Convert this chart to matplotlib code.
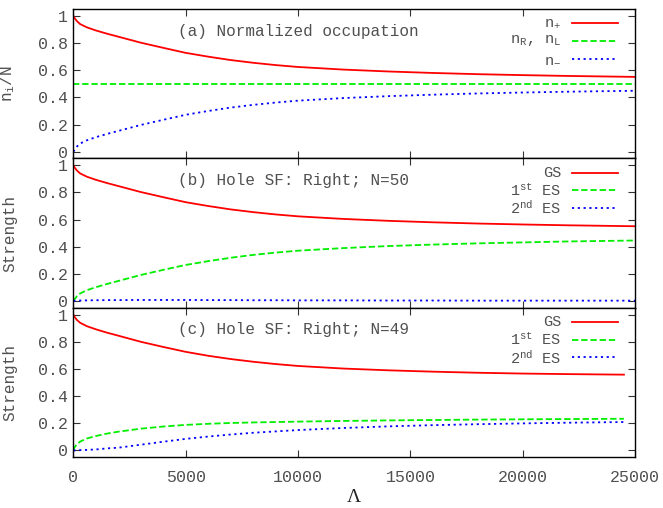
"""
Occupation and hole spectroscopic strengths vs Lambda (three stacked panels).
"""

import numpy as np
import matplotlib
matplotlib.use("Agg")
import matplotlib.pyplot as plt
import matplotlib.ticker as mticker

# ── Data ──────────────────────────────────────────────────
LAM_AB = [0, 50, 150, 300, 600, 1000, 1500, 2000, 3000, 4000, 5000, 6000, 7000,
          8000, 9000, 10000, 12000, 14000, 16000, 18000, 20000, 22000, 25000]
N_PLUS = [1.0, 0.985, 0.963, 0.94, 0.916, 0.893, 0.869, 0.847, 0.803, 0.765, 0.728,
          0.70, 0.675, 0.655, 0.638, 0.624, 0.605, 0.591, 0.58, 0.571, 0.564, 0.558, 0.551]
N_RL = [0.5] * len(LAM_AB)
N_MINUS = [0.0, 0.015, 0.037, 0.06, 0.084, 0.107, 0.131, 0.153, 0.197, 0.235, 0.272,
           0.30, 0.325, 0.345, 0.362, 0.376, 0.395, 0.409, 0.42, 0.429, 0.436, 0.442, 0.449]

GS_B = [1.0, 0.985, 0.963, 0.94, 0.916, 0.893, 0.869, 0.847, 0.803, 0.765, 0.728,
        0.70, 0.675, 0.655, 0.638, 0.624, 0.605, 0.591, 0.58, 0.571, 0.564, 0.558, 0.551]
ES1_B = [0.0, 0.013, 0.034, 0.056, 0.08, 0.102, 0.126, 0.148, 0.192, 0.23, 0.266,
         0.294, 0.319, 0.34, 0.357, 0.371, 0.39, 0.405, 0.416, 0.425, 0.432, 0.439, 0.446]
ES2_B = [0.0, 0.002, 0.003, 0.004, 0.005, 0.006, 0.007, 0.007, 0.008, 0.008, 0.008,
         0.007, 0.007, 0.006, 0.006, 0.005, 0.005, 0.004, 0.004, 0.003, 0.003, 0.003, 0.003]

LAM_C = [0, 50, 150, 300, 600, 1000, 1500, 2000, 3000, 4000, 5000, 6000, 7000,
         8000, 9000, 10000, 12000, 14000, 16000, 18000, 20000, 22000, 24500]
GS_C = [1.0, 0.984, 0.962, 0.94, 0.915, 0.892, 0.867, 0.845, 0.80, 0.762, 0.726,
        0.697, 0.673, 0.653, 0.636, 0.622, 0.603, 0.59, 0.58, 0.572, 0.566, 0.562, 0.558]
ES1_C = [0.0, 0.022, 0.045, 0.065, 0.088, 0.106, 0.124, 0.138, 0.16, 0.176, 0.188,
         0.196, 0.202, 0.206, 0.209, 0.212, 0.217, 0.221, 0.224, 0.227, 0.229, 0.231, 0.233]
ES2_C = [0.0, 0.0, 0.001, 0.002, 0.004, 0.007, 0.015, 0.02, 0.042, 0.064, 0.085,
         0.102, 0.117, 0.13, 0.14, 0.15, 0.165, 0.177, 0.186, 0.193, 0.199, 0.204, 0.209]

Y_TICKS = [0, 0.2, 0.4, 0.6, 0.8, 1]
Y_TICKLABELS = ["0", "0.2", "0.4", "0.6", "0.8", "1"]
X_TICKS = [0, 5000, 10000, 15000, 20000, 25000]

# ── Style ────────────────────────────────────────────────
RED = "#FF0000"; GREEN = "#00EE00"; BLUE = "#0000FF"; GREY = "#505050"
MONO = "Liberation Mono"

plt.rcParams.update({
    "font.family": MONO, "font.size": 11.5,
    "mathtext.fontset": "custom", "mathtext.rm": MONO, "mathtext.it": MONO,
    "text.color": GREY, "axes.labelcolor": GREY,
    "xtick.color": "#333333", "ytick.color": "#333333",
    "xtick.labelcolor": GREY, "ytick.labelcolor": GREY,
    "xtick.labelsize": 12, "ytick.labelsize": 12,
    "axes.linewidth": 1.0,
})

LW = 1.3
STY = {
    "solid": dict(color=RED, lw=LW, linestyle="-"),
    "dash": dict(color=GREEN, lw=LW, linestyle=(0, (3.5, 1.6))),
    "dot": dict(color=BLUE, lw=LW, linestyle=(0, (1.2, 2.0))),
}

fig = plt.figure(figsize=(6.63, 5.08), dpi=100)
gs = fig.add_gridspec(3, 1, left=0.1107, right=0.958, top=0.982, bottom=0.100, hspace=0)
axes = [fig.add_subplot(gs[i]) for i in range(3)]

panels = [
    dict(x=LAM_AB, ys=[N_PLUS, N_RL, N_MINUS],
         labels=[r"n$_{+}$", r"n$_{\rm R}$, n$_{\rm L}$", r"n$_{-}$"],
         title="(a) Normalized occupation", ylabel=r"n$_{\rm i}$/N"),
    dict(x=LAM_AB, ys=[GS_B, ES1_B, ES2_B],
         labels=["GS", r"1$^{\rm st}$ ES", r"2$^{\rm nd}$ ES"],
         title="(b) Hole SF: Right; N=50", ylabel="Strength"),
    dict(x=LAM_C, ys=[GS_C, ES1_C, ES2_C],
         labels=["GS", r"1$^{\rm st}$ ES", r"2$^{\rm nd}$ ES"],
         title="(c) Hole SF: Right; N=49", ylabel="Strength"),
]

ROWS = [0.905, 0.787, 0.668]
for ax, p in zip(axes, panels):
    for y, key, lab, ry in zip(p["ys"], ["solid", "dash", "dot"], p["labels"], ROWS):
        ax.plot(p["x"], y, **STY[key])
        # gnuplot-style key: right-justified text, sample to the right
        ax.text(0.868, ry, lab, transform=ax.transAxes, ha="right", va="center",
                fontsize=11)
        ax.plot([0.888, 0.970], [ry, ry], transform=ax.transAxes, **STY[key])
    ax.text(0.186, 0.852, p["title"], transform=ax.transAxes, ha="left", va="center")
    ax.set_xlim(0, 25000)
    ax.set_ylim(-0.05, 1.05)
    ax.set_yticks(Y_TICKS)
    ax.set_yticklabels(Y_TICKLABELS)
    ax.set_xticks(X_TICKS)
    ax.tick_params(direction="in", top=True, right=True, length=5, width=0.8)
    ax.tick_params(axis="y", pad=4)
    ax.tick_params(axis="x", pad=9)
    ax.set_ylabel(p["ylabel"])
    ax.yaxis.set_label_coords(-0.10, 0.5)

for ax in axes[:2]:
    ax.tick_params(labelbottom=False)

axes[2].xaxis.set_major_formatter(mticker.FuncFormatter(lambda v, _: f"{v:.0f}"))
axes[2].set_xlabel("Λ", family="Liberation Serif", fontsize=14, color="#222222", labelpad=3)

fig.savefig("out.png", dpi=100)
